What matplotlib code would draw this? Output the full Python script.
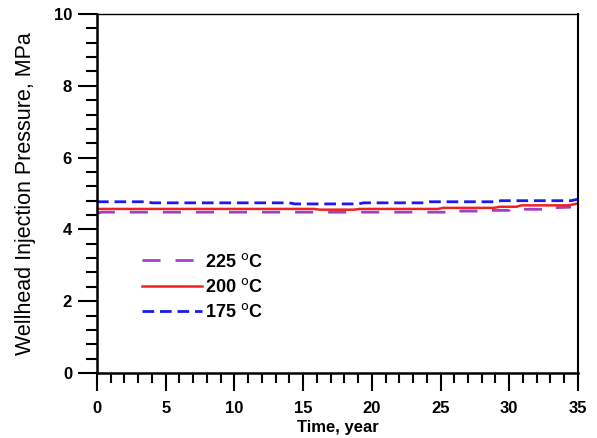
import matplotlib.pyplot as plt
from matplotlib.ticker import MultipleLocator

plt.rcParams['font.family'] = ['Liberation Sans', 'DejaVu Sans']

# step-like pressure histories
t_225 = [0, 0.3, 26, 26.01, 28, 28.01, 30, 30.01, 33, 33.01, 34.5]
p_225 = [4.44, 4.48, 4.48, 4.51, 4.51, 4.53, 4.53, 4.56, 4.56, 4.60, 4.62]

t_200 = [0, 15.8, 16.2, 18.7, 19.1, 24.8, 25.2, 28.9, 29.3, 30.5, 30.9, 34.3, 35]
p_200 = [4.57, 4.57, 4.55, 4.55, 4.57, 4.57, 4.60, 4.60, 4.63, 4.63, 4.67, 4.67, 4.72]

t_175 = [0, 3.6, 4.0, 14.0, 14.4, 19.0, 19.4, 23.8, 24.2, 29.0, 29.4, 34.5, 35]
p_175 = [4.77, 4.77, 4.74, 4.74, 4.71, 4.71, 4.74, 4.74, 4.77, 4.77, 4.80, 4.80, 4.84]

labels = ['225 $^{\\mathsf{o}}$C', '200 $^{\\mathsf{o}}$C', '175 $^{\\mathsf{o}}$C']

fig = plt.figure(figsize=(5.97, 4.38), dpi=100)
ax = fig.add_axes([0.1625, 0.1484, 0.8055, 0.8196])

ax.plot(t_225, p_225, color='#a040c8', lw=2, dashes=(6.5, 5.4), label=labels[0])
ax.plot(t_200, p_200, color='#ee2222', lw=1.8, label=labels[1])
ax.plot(t_175, p_175, color='#1a1aee', lw=2, dashes=(4.2, 2.1), label=labels[2])

ax.set_xlim(0, 35)
ax.set_ylim(0, 10)
ax.xaxis.set_major_locator(MultipleLocator(5))
ax.xaxis.set_minor_locator(MultipleLocator(1))
ax.yaxis.set_major_locator(MultipleLocator(2))
ax.yaxis.set_minor_locator(MultipleLocator(0.4))

ax.tick_params(axis='both', which='both', direction='out', width=1.5, labelsize=12)
ax.tick_params(axis='x', which='major', length=13, pad=7)
ax.tick_params(axis='x', which='minor', length=7.5)
ax.tick_params(axis='y', which='major', length=14, pad=4)
ax.tick_params(axis='y', which='minor', length=8)
for lab in ax.get_xticklabels() + ax.get_yticklabels():
    lab.set_fontweight('bold')

ax.spines['left'].set_linewidth(1.8)
ax.spines['bottom'].set_linewidth(1.8)
ax.spines['top'].set_linewidth(1.0)
ax.spines['right'].set_linewidth(1.5)

ax.set_xlabel('Time, year', fontsize=12, fontweight='bold', labelpad=3)
ax.set_ylabel('Wellhead Injection Pressure, MPa', fontsize=15.5, labelpad=13)

leg = ax.legend(loc='center left', bbox_to_anchor=(0.06, 0.24), frameon=False,
                prop={'size': 13, 'weight': 'bold'}, handlelength=3.3,
                handletextpad=0.2, labelspacing=0.4)

fig.savefig('out.png', dpi=100)
